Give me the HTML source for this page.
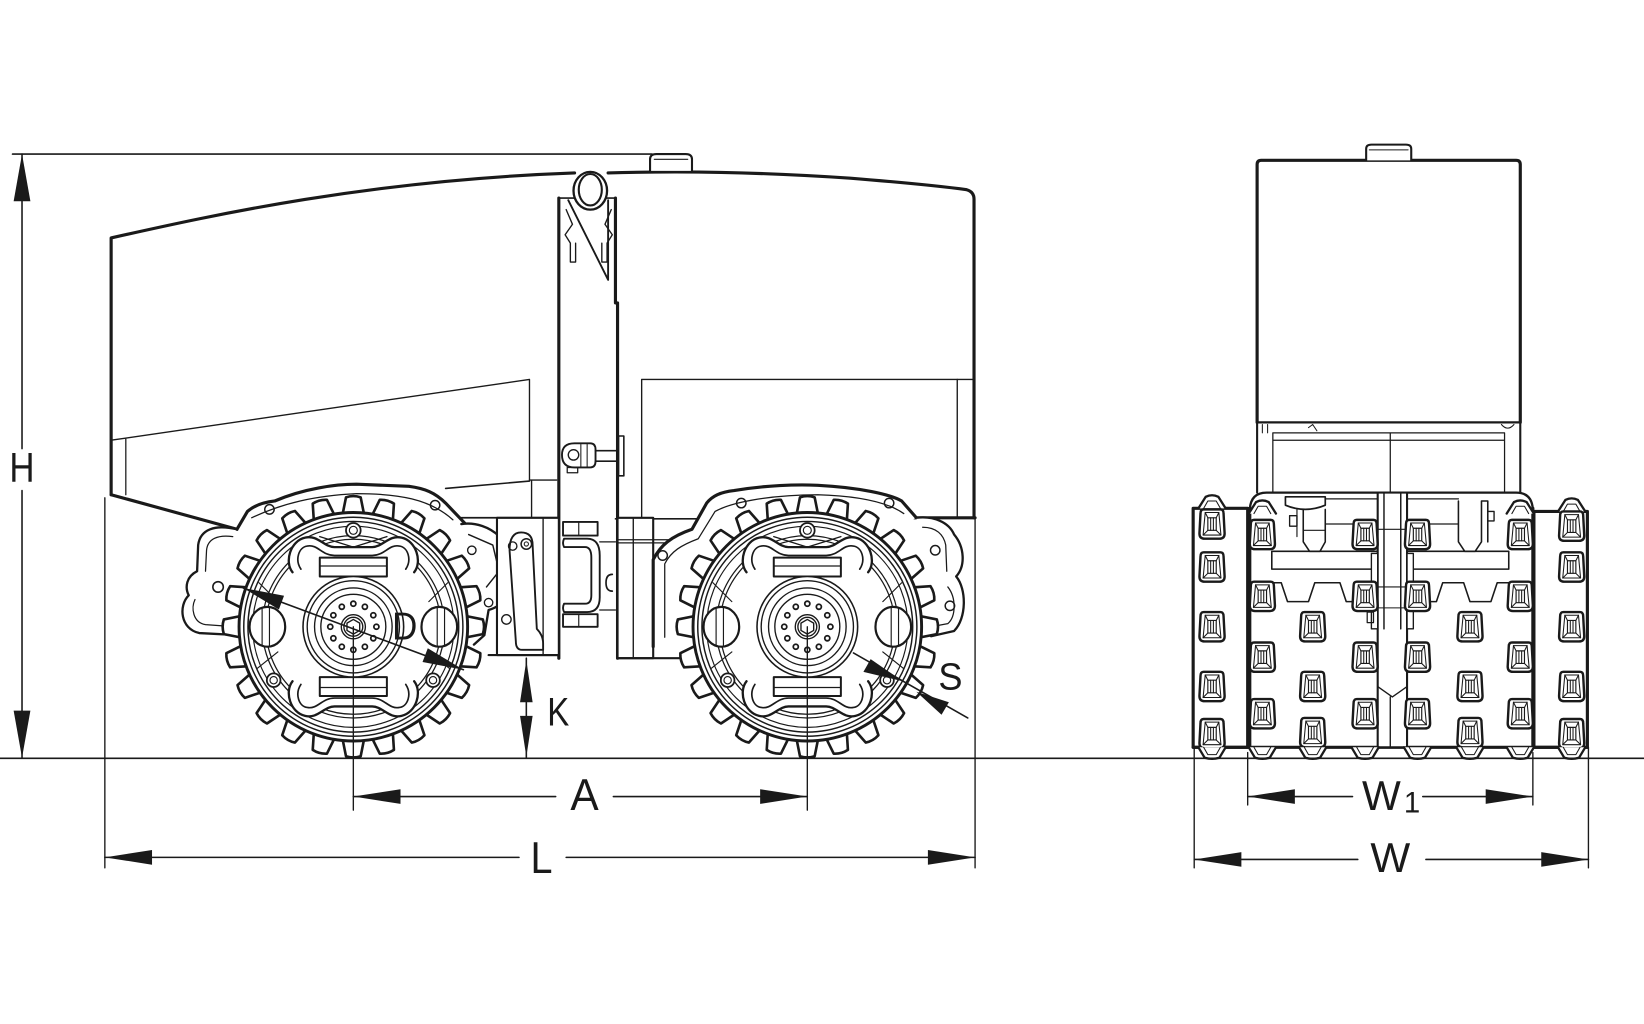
<!DOCTYPE html>
<html><head><meta charset="utf-8"><style>
html,body{margin:0;padding:0;background:#fff;}
svg{display:block;}
text{font-family:"Liberation Sans",Arial,sans-serif;fill:#1a1a1a;}
</style></head><body>
<svg width="1644" height="1024" viewBox="0 0 1568 977" preserveAspectRatio="none" xmlns="http://www.w3.org/2000/svg" xmlns:xlink="http://www.w3.org/1999/xlink">
<defs>
<path id="tooth" d="M-10.5,-106 L-7,-123.5 Q0,-125.8 7,-123.5 L10.5,-106" fill="#fff" stroke="#1a1a1a" stroke-width="2.5" stroke-linejoin="round"/>
<g id="wheel" stroke="#1a1a1a" fill="none">
  <use href="#tooth" xlink:href="#tooth" transform="rotate(0)"/>
  <use href="#tooth" xlink:href="#tooth" transform="rotate(15)"/>
  <use href="#tooth" xlink:href="#tooth" transform="rotate(30)"/>
  <use href="#tooth" xlink:href="#tooth" transform="rotate(45)"/>
  <use href="#tooth" xlink:href="#tooth" transform="rotate(60)"/>
  <use href="#tooth" xlink:href="#tooth" transform="rotate(75)"/>
  <use href="#tooth" xlink:href="#tooth" transform="rotate(90)"/>
  <use href="#tooth" xlink:href="#tooth" transform="rotate(105)"/>
  <use href="#tooth" xlink:href="#tooth" transform="rotate(120)"/>
  <use href="#tooth" xlink:href="#tooth" transform="rotate(135)"/>
  <use href="#tooth" xlink:href="#tooth" transform="rotate(150)"/>
  <use href="#tooth" xlink:href="#tooth" transform="rotate(165)"/>
  <use href="#tooth" xlink:href="#tooth" transform="rotate(180)"/>
  <use href="#tooth" xlink:href="#tooth" transform="rotate(195)"/>
  <use href="#tooth" xlink:href="#tooth" transform="rotate(210)"/>
  <use href="#tooth" xlink:href="#tooth" transform="rotate(225)"/>
  <use href="#tooth" xlink:href="#tooth" transform="rotate(240)"/>
  <use href="#tooth" xlink:href="#tooth" transform="rotate(255)"/>
  <use href="#tooth" xlink:href="#tooth" transform="rotate(270)"/>
  <use href="#tooth" xlink:href="#tooth" transform="rotate(285)"/>
  <use href="#tooth" xlink:href="#tooth" transform="rotate(300)"/>
  <use href="#tooth" xlink:href="#tooth" transform="rotate(315)"/>
  <use href="#tooth" xlink:href="#tooth" transform="rotate(330)"/>
  <use href="#tooth" xlink:href="#tooth" transform="rotate(345)"/>
  <circle r="109" fill="#fff" stroke-width="2.8"/>
  <circle r="104.5" stroke-width="1.4"/>
  <circle r="100.5" stroke-width="1.4"/>
  <circle r="96" stroke-width="1.1"/>
  <circle r="87" stroke-width="1.2"/>
  <circle r="83.5" stroke-width="1.2"/>
  <!-- top chain loop -->
  <path d="M-58,-52 C-66,-62 -60,-82 -46,-85 C-34,-88 -28,-76 -18,-76 L18,-76 C28,-76 34,-88 46,-85 C60,-82 66,-62 58,-52" stroke-width="2.2" fill="#fff"/>
  <path d="M-50,-55 C-56,-64 -52,-76 -44,-77 C-34,-79 -30,-68 -18,-68 L18,-68 C30,-68 34,-79 44,-77 C52,-76 56,-64 50,-55" stroke-width="1.6"/>
  <path d="M-32,-86 L0,-76 L32,-86" stroke-width="1.3"/>
  <rect x="-32" y="-66" width="64" height="18" fill="#fff" stroke-width="1.9"/>
  <line x1="-32" y1="-58" x2="32" y2="-58" stroke-width="1.2"/>
  <!-- bottom chain loop -->
  <path d="M-58,52 C-66,62 -60,82 -46,85 C-34,88 -28,76 -18,76 L18,76 C28,76 34,88 46,85 C60,82 66,62 58,52" stroke-width="2.2" fill="#fff"/>
  <path d="M-50,55 C-56,64 -52,76 -44,77 C-34,79 -30,68 -18,68 L18,68 C30,68 34,79 44,77 C52,76 56,64 50,55" stroke-width="1.6"/>
  <rect x="-32" y="48" width="64" height="18" fill="#fff" stroke-width="1.9"/>
  <line x1="-32" y1="58" x2="32" y2="58" stroke-width="1.2"/>
  <!-- side lugs -->
  <ellipse cx="-82" cy="0" rx="17" ry="19" fill="#fff" stroke-width="2.1"/>
  <path d="M-87,-17 V17 M-80,-18 V18" stroke-width="1.1"/>
  <ellipse cx="82" cy="0" rx="17" ry="19" fill="#fff" stroke-width="2.1"/>
  <path d="M87,-17 V17 M80,-18 V18" stroke-width="1.1"/>
  <path d="M-72,24 L-92,40 M72,24 L92,40 M-72,-24 L-90,-42 M72,-24 L90,-42" stroke-width="1.1"/>
  <!-- small circles -->
  <circle cx="0" cy="-92" r="7" fill="#fff" stroke-width="1.7"/>
  <circle cx="0" cy="-92" r="3.8" stroke-width="1.1"/>
  <circle cx="-76" cy="51" r="6.5" fill="#fff" stroke-width="1.7"/>
  <circle cx="-76" cy="51" r="3.5" stroke-width="1.1"/>
  <circle cx="76" cy="51" r="6.5" fill="#fff" stroke-width="1.7"/>
  <circle cx="76" cy="51" r="3.5" stroke-width="1.1"/>
  <!-- hub -->
  <circle r="48" fill="#fff" stroke-width="1.5"/>
  <circle r="44" stroke-width="1.3"/>
  <circle r="37" stroke-width="1.3"/>
  <circle r="31" stroke-width="1.3"/>
  <g stroke-width="1.7">
    <circle cx="22" cy="0" r="2.4"/><circle cx="19.05" cy="11" r="2.4"/><circle cx="11" cy="19.05" r="2.4"/>
    <circle cx="0" cy="22" r="2.4"/><circle cx="-11" cy="19.05" r="2.4"/><circle cx="-19.05" cy="11" r="2.4"/>
    <circle cx="-22" cy="0" r="2.4"/><circle cx="-19.05" cy="-11" r="2.4"/><circle cx="-11" cy="-19.05" r="2.4"/>
    <circle cx="0" cy="-22" r="2.4"/><circle cx="11" cy="-19.05" r="2.4"/><circle cx="19.05" cy="-11" r="2.4"/>
  </g>
  <circle r="11.5" stroke-width="1.3"/>
  <circle r="9" stroke-width="1.3"/>
  <polygon points="0,-7 6.06,-3.5 6.06,3.5 0,7 -6.06,3.5 -6.06,-3.5" stroke-width="1.3"/>
</g>
<g id="pad" stroke="#1a1a1a" fill="none">
  <path d="M-8,-14 H8 Q11,-14 11,-10 L12,9 Q12,14 7,14 H-7 Q-12,14 -12,9 L-11,-10 Q-11,-14 -8,-14 Z" fill="#fff" stroke-width="2.3"/>
  <path d="M-6.5,-11 H6.5 L8.5,10.5 H-8.5 Z" stroke-width="1"/>
  <rect x="-4" y="-6" width="8" height="12" stroke-width="1.1"/>
  <path d="M-6.5,-11 L-4,-6 M6.5,-11 L4,-6 M-8.5,10.5 L-4,6 M8.5,10.5 L4,6 M-1.3,-6 V6 M1.3,-6 V6" stroke-width="1"/>
</g>
<g id="bump" stroke="#1a1a1a" fill="#fff">
  <path d="M-13,0 L-7,10 Q0,12 7,10 L13,0" stroke-width="2.2"/>
  <path d="M-8,0 L-4,7 H4 L8,0" fill="none" stroke-width="1"/>
</g>
<g id="tbump" stroke="#1a1a1a" fill="#fff">
  <path d="M-13,0 L-6,-11 Q0,-14 6,-11 L13,0" stroke-width="2.2"/>
  <path d="M-8,0 L-4,-7 H4 L8,0" fill="none" stroke-width="1"/>
</g>
</defs>

<g stroke="#1a1a1a" fill="none" stroke-linejoin="round" stroke-linecap="round">

<!-- ================= LEFT VIEW ================= -->
<!-- rear hood -->
<path d="M106,472 V227 C200,206 350,172 548,165" stroke-width="3"/>
<path d="M106,420 L505,362 V458" stroke-width="1.3"/>
<line x1="120" y1="419" x2="120" y2="472" stroke-width="1.2"/>
<path d="M505,458 H531 M507,458 V493" stroke-width="1.3"/>
<path d="M425,466 L505,459" stroke-width="1.5"/>
<path d="M106,472 L226,505" stroke-width="3"/>

<!-- front hood -->
<path d="M580,165 C650,163 720,164 811,170 C860,174 900,178 922,181 Q929,183 929,190 V494" stroke-width="3"/>
<path d="M612,494 V362 H929" stroke-width="1.3"/>
<line x1="913" y1="362" x2="913" y2="494" stroke-width="1.3"/>
<path d="M872,494 H930" stroke-width="3"/>
<path d="M587,495 H672" stroke-width="1.5"/>

<!-- filler cap -->
<path d="M620,163 V152 Q620,147 626,147 H654 Q660,147 660,152 V163" stroke-width="2" fill="#fff"/>
<line x1="624" y1="152" x2="656" y2="152" stroke-width="1"/>

<!-- articulation column -->
<line x1="533" y1="189" x2="533" y2="628" stroke-width="3"/>
<path d="M587,189 V289 H589 V628" stroke-width="3"/>
<line x1="533" y1="189" x2="587" y2="189" stroke-width="1.5"/>
<path d="M542,191 L580,267 V191" stroke-width="1.8"/>
<path d="M540,200 L546,214 L539,224 L544,232 V250 H549 V232" stroke-width="1.3"/>
<path d="M583,200 L577,214 L584,224 L579,232 V250 H574 V232" stroke-width="1.3"/>
<!-- hinge -->
<ellipse cx="563" cy="182" rx="16" ry="18" fill="#fff" stroke-width="2.2"/>
<ellipse cx="563" cy="181" rx="11" ry="15" stroke-width="2"/>
<!-- clevis -->
<path d="M548,423 H563 Q568,423 568,429 V440 Q568,446 563,446 H548 Q536,446 536,434 Q536,423 548,423 Z" fill="#fff" stroke-width="1.8"/>
<circle cx="547" cy="434" r="5" stroke-width="1.3"/>
<path d="M554,424 V446 M560,424 V446" stroke-width="1"/>
<path d="M568,430 H590 V440 H568" stroke-width="1.5"/>
<rect x="590" y="416" width="5" height="38" stroke-width="1.5" fill="#fff"/>
<rect x="541" y="446" width="10" height="5" stroke-width="1.2"/>

<!-- left wheel fender & brackets (behind wheel) -->
<path d="M226,505 C205,500 191,505 189,520 L188,545 C178,550 176,560 180,568 C170,578 172,600 190,604 L228,606" fill="#fff" stroke-width="2.2"/>
<path d="M222,512 C208,510 198,514 197,525 L196,545 M186,572 C182,580 184,594 196,596 L224,598" stroke-width="1.2"/>
<circle cx="208" cy="560" r="5" stroke-width="1.5"/>
<path d="M226,505 L236,488 Q245,480 262,478 C290,466 320,462 340,462 L390,464 C405,466 415,470 425,480 L446,502" fill="#fff" stroke-width="3"/>
<path d="M240,494 C270,480 300,473 340,471 C380,471 410,476 432,496" stroke-width="1.2"/>
<circle cx="257" cy="486" r="4.5" stroke-width="1.4"/>
<circle cx="415" cy="482" r="4.5" stroke-width="1.4"/>
<!-- motor housing right of left wheel -->
<path d="M440,500 C468,496 492,520 491,546 C490,566 480,578 466,582 L462,606 L452,615" fill="#fff" stroke-width="2.2"/>
<path d="M447,510 L470,520 L476,545 L464,560" stroke-width="1.4"/>
<circle cx="450" cy="525" r="4" stroke-width="1.3"/>
<circle cx="466" cy="575" r="4" stroke-width="1.3"/>

<!-- rear frame -->
<path d="M440,494 H533" stroke-width="1.6"/>
<rect x="474" y="494" width="59" height="131" fill="#fff" stroke-width="2"/>
<line x1="518" y1="494" x2="518" y2="625" stroke-width="1.3"/>
<path d="M486,525 Q486,508 497,508 Q508,508 508,520 L512,600 Q518,606 518,614 V620 H498 Q492,620 492,612 Z" fill="#fff" stroke-width="1.8"/>
<circle cx="502" cy="519" r="5" stroke-width="1.4"/>
<circle cx="502" cy="519" r="2" stroke-width="1"/>
<circle cx="489" cy="521" r="4" stroke-width="1.3"/>
<circle cx="483" cy="591" r="4.5" stroke-width="1.3"/>
<path d="M466,625 H533" stroke-width="2"/>

<!-- coupling -->
<rect x="537" y="498" width="33" height="13" fill="#fff" stroke-width="1.8"/>
<line x1="552" y1="498" x2="552" y2="511" stroke-width="1.1"/>
<rect x="537" y="586" width="33" height="12" fill="#fff" stroke-width="1.8"/>
<line x1="552" y1="586" x2="552" y2="598" stroke-width="1.1"/>
<path d="M538,514 H560 Q572,514 572,530 V570 Q572,584 560,584 H538 Q536,580 538,576 H558 Q564,576 564,568 V532 Q564,522 558,522 H538 Q536,518 538,514 Z" fill="#fff" stroke-width="1.8"/>
<path d="M572,517 H587 M572,582 H587" stroke-width="1.2"/>
<path d="M584,548 Q578,548 578,556 Q578,564 584,564" stroke-width="1.6"/>

<!-- front frame -->
<rect x="589" y="494" width="34" height="134" fill="#fff" stroke-width="2"/>
<line x1="604" y1="494" x2="604" y2="628" stroke-width="1.3"/>
<path d="M589,515 H650 M589,518 H650" stroke-width="1.2"/>
<path d="M589,628 H650" stroke-width="2"/>

<!-- right wheel fender & brackets -->
<path d="M623,617 V534 C630,520 640,512 660,505 L674,480 C680,472 690,469 700,468 C730,463 760,462 780,463 C820,465 850,472 860,478 L874,494" fill="#fff" stroke-width="3"/>
<path d="M634,608 V538 C640,526 650,520 666,514 L682,488 C700,478 740,472 780,472 C815,473 845,478 862,490" stroke-width="1.2"/>
<circle cx="632" cy="530" r="4.5" stroke-width="1.4"/>
<circle cx="707" cy="480" r="4.5" stroke-width="1.4"/>
<circle cx="848" cy="480" r="4.5" stroke-width="1.4"/>
<path d="M874,494 C890,492 905,498 910,510 C920,522 921,540 912,550 C922,562 922,590 910,602 L888,607" fill="#fff" stroke-width="2.2"/>
<path d="M880,503 C893,503 900,510 902,520 L903,545 M904,560 C912,570 912,588 904,595 L888,598" stroke-width="1.2"/>
<circle cx="892" cy="525" r="4.5" stroke-width="1.4"/>
<circle cx="906" cy="578" r="4.5" stroke-width="1.4"/>

<!-- wheels -->
<use href="#wheel" xlink:href="#wheel" transform="translate(337,598)"/>
<use href="#wheel" xlink:href="#wheel" transform="translate(770,598)"/>

<!-- ================= RIGHT VIEW ================= -->
<!-- upper box -->
<path d="M1199,403 V157 Q1199,153 1203,153 H1446 Q1450,153 1450,157 V403" stroke-width="3" fill="#fff"/>
<path d="M1303,153 V142 Q1303,138 1308,138 H1341 Q1346,138 1346,142 V153" stroke-width="2" fill="#fff"/>
<line x1="1306" y1="143" x2="1343" y2="143" stroke-width="1"/>
<line x1="1199" y1="403" x2="1450" y2="403" stroke-width="2.2"/>
<path d="M1214,413 H1435 M1214,420 H1435 M1214,413 V470 M1435,413 V470 M1326,413 V470" stroke-width="1.2"/>
<path d="M1199,403 V470 M1450,403 V470" stroke-width="2"/>
<path d="M1204,405 V413 M1209,405 V413 M1248,408 L1252,405 L1256,411 M1432,405 Q1438,412 1444,405" stroke-width="1"/>

<!-- drum frame top -->
<path d="M1192,488 Q1192,470 1208,470 H1446 Q1462,470 1462,488" stroke-width="2.2" fill="#fff"/>
<!-- drums -->
<rect x="1138" y="485" width="52" height="228" stroke-width="3" fill="#fff"/>
<rect x="1463" y="488" width="51" height="225" stroke-width="3" fill="#fff"/>
<path d="M1192,713 V485 M1462,713 V485" stroke-width="3"/>
<line x1="1138" y1="713" x2="1514" y2="713" stroke-width="3"/>

<!-- center mechanical -->
<path d="M1213,526 H1439 M1213,543 H1439 M1213,526 V543 M1439,526 V543" stroke-width="1.5"/>
<path d="M1213,556 H1222 L1228,574 H1248 L1254,556 H1278 L1284,574 H1304 L1310,556 M1342,556 L1348,574 H1370 L1376,556 H1396 L1402,574 H1422 L1428,556 H1439" stroke-width="1.5"/>
<path d="M1226,474 H1264 V482 Q1245,490 1226,482 Z" stroke-width="1.6" fill="#fff"/>
<path d="M1243,486 V517 L1249,526 H1259 L1264,517 V486" stroke-width="1.5"/>
<path d="M1237,486 V512 M1243,506 H1264" stroke-width="1.1"/>
<rect x="1230" y="492" width="7" height="10" stroke-width="1.3"/>
<path d="M1264,476 H1314 M1264,500 H1314" stroke-width="1.2"/>
<path d="M1391,478 V517 L1397,526 H1407 L1413,517 V478 M1413,478 H1419 V517" stroke-width="1.5"/>
<rect x="1419" y="488" width="6" height="9" stroke-width="1.3"/>
<path d="M1342,476 H1391 M1342,500 H1391" stroke-width="1.2"/>
<!-- hitch -->
<rect x="1314" y="470" width="28" height="243" fill="#fff" stroke-width="2"/>
<path d="M1320,470 V600 M1336,470 V600" stroke-width="1.4"/>
<path d="M1308,528 H1314 V600 H1308 Z M1342,528 H1348 V600 H1342 Z" stroke-width="1.3" fill="#fff"/>
<path d="M1314,505 H1342 M1314,560 H1342 M1314,580 H1342" stroke-width="1"/>
<path d="M1314,655 L1328,665 L1342,655 M1326,665 V713" stroke-width="1.3"/>
<rect x="1304" y="584" width="6" height="10" stroke-width="1.2"/>

<!-- pads: outer drums -->
<use href="#tbump" xlink:href="#tbump" x="1156" y="485"/>
<use href="#tbump" xlink:href="#tbump" x="1499" y="488"/>
<use href="#tbump" xlink:href="#tbump" x="1204" y="490"/>
<use href="#tbump" xlink:href="#tbump" x="1450" y="490"/>
<use href="#pad" xlink:href="#pad" x="1156" y="500"/>
<use href="#pad" xlink:href="#pad" x="1156" y="541"/>
<use href="#pad" xlink:href="#pad" x="1156" y="598"/>
<use href="#pad" xlink:href="#pad" x="1156" y="655"/>
<use href="#pad" xlink:href="#pad" x="1156" y="700"/>
<use href="#pad" xlink:href="#pad" x="1499" y="502"/>
<use href="#pad" xlink:href="#pad" x="1499" y="541"/>
<use href="#pad" xlink:href="#pad" x="1499" y="598"/>
<use href="#pad" xlink:href="#pad" x="1499" y="655"/>
<use href="#pad" xlink:href="#pad" x="1499" y="700"/>
<!-- pads: center drum -->
<use href="#pad" xlink:href="#pad" x="1204" y="510"/>
<use href="#pad" xlink:href="#pad" x="1204" y="569"/>
<use href="#pad" xlink:href="#pad" x="1204" y="627"/>
<use href="#pad" xlink:href="#pad" x="1204" y="681"/>
<use href="#pad" xlink:href="#pad" x="1302" y="510"/>
<use href="#pad" xlink:href="#pad" x="1302" y="569"/>
<use href="#pad" xlink:href="#pad" x="1302" y="627"/>
<use href="#pad" xlink:href="#pad" x="1302" y="681"/>
<use href="#pad" xlink:href="#pad" x="1352" y="510"/>
<use href="#pad" xlink:href="#pad" x="1352" y="569"/>
<use href="#pad" xlink:href="#pad" x="1352" y="627"/>
<use href="#pad" xlink:href="#pad" x="1352" y="681"/>
<use href="#pad" xlink:href="#pad" x="1450" y="510"/>
<use href="#pad" xlink:href="#pad" x="1450" y="569"/>
<use href="#pad" xlink:href="#pad" x="1450" y="627"/>
<use href="#pad" xlink:href="#pad" x="1450" y="681"/>
<use href="#pad" xlink:href="#pad" x="1252" y="598"/>
<use href="#pad" xlink:href="#pad" x="1252" y="655"/>
<use href="#pad" xlink:href="#pad" x="1252" y="699"/>
<use href="#pad" xlink:href="#pad" x="1402" y="598"/>
<use href="#pad" xlink:href="#pad" x="1402" y="655"/>
<use href="#pad" xlink:href="#pad" x="1402" y="699"/>
<!-- bottom bumps -->
<use href="#bump" xlink:href="#bump" x="1156" y="713"/>
<use href="#bump" xlink:href="#bump" x="1204" y="713"/>
<use href="#bump" xlink:href="#bump" x="1252" y="713"/>
<use href="#bump" xlink:href="#bump" x="1302" y="713"/>
<use href="#bump" xlink:href="#bump" x="1352" y="713"/>
<use href="#bump" xlink:href="#bump" x="1402" y="713"/>
<use href="#bump" xlink:href="#bump" x="1450" y="713"/>
<use href="#bump" xlink:href="#bump" x="1499" y="713"/>

<!-- ================= DIMENSIONS ================= -->
<line x1="0" y1="723.5" x2="1568" y2="723.5" stroke-width="1.6"/>
<!-- H -->
<line x1="12" y1="147" x2="622" y2="147" stroke-width="1.6"/>
<path d="M21,147 V428 M21,468 V723" stroke-width="1.5"/>
<!-- extension lines -->
<path d="M100,475 V828 M930,494 V828 M337,598 V773 M770,598 V773 M1139,713 V828 M1515,713 V828 M1190,718 V768 M1462,718 V768" stroke-width="1.3"/>
<!-- L -->
<path d="M100,818 H495 M540,818 H930" stroke-width="1.5"/>
<!-- A -->
<path d="M337,760 H530 M585,760 H770" stroke-width="1.5"/>
<!-- W1 -->
<path d="M1190,760 H1290 M1357,760 H1462" stroke-width="1.5"/>
<!-- W -->
<path d="M1139,820 H1295 M1360,820 H1515" stroke-width="1.5"/>
<!-- K -->
<line x1="502" y1="628" x2="502" y2="723" stroke-width="1.5"/>
<!-- D -->
<line x1="232" y1="561" x2="442" y2="639" stroke-width="1.5"/>
<!-- S -->
<line x1="814" y1="623" x2="923" y2="685" stroke-width="1.5"/>
</g>

<!-- arrowheads -->
<g fill="#1a1a1a" stroke="none">
<polygon points="21,147 13,192 29,192"/>
<polygon points="21,723 13,678 29,678"/>
<polygon points="100,818 145,811 145,825"/>
<polygon points="930,818 885,811 885,825"/>
<polygon points="337,760 382,753 382,767"/>
<polygon points="770,760 725,753 725,767"/>
<polygon points="1190,760 1235,753 1235,767"/>
<polygon points="1462,760 1417,753 1417,767"/>
<polygon points="1139,820 1184,813 1184,827"/>
<polygon points="1515,820 1470,813 1470,827"/>
<polygon points="502,630 496,670 508,670"/>
<polygon points="502,722 496,683 508,683"/>
<polygon points="232,561 270.9,568.4 266,581.5"/>
<polygon points="442,639 408,618.5 403,631.6"/>
<polygon points="861,650 823.5,641 830.4,628.9"/>
<polygon points="874,660 905,670 898,682"/>
</g>

<!-- labels -->
<text x="9" y="460" font-size="40" textLength="24" lengthAdjust="spacingAndGlyphs">H</text>
<text x="506" y="833" font-size="42" textLength="21" lengthAdjust="spacingAndGlyphs">L</text>
<text x="544" y="773" font-size="42" textLength="27" lengthAdjust="spacingAndGlyphs">A</text>
<text x="522" y="692" font-size="38" textLength="21" lengthAdjust="spacingAndGlyphs">K</text>
<text x="374" y="610" font-size="37" textLength="24" lengthAdjust="spacingAndGlyphs">D</text>
<text x="895" y="658" font-size="36" textLength="23" lengthAdjust="spacingAndGlyphs">S</text>
<text x="1299" y="773" font-size="40" textLength="37" lengthAdjust="spacingAndGlyphs">W</text>
<text x="1339" y="775" font-size="28">1</text>
<text x="1307" y="832" font-size="40" textLength="38" lengthAdjust="spacingAndGlyphs">W</text>
</svg>
</body></html>
